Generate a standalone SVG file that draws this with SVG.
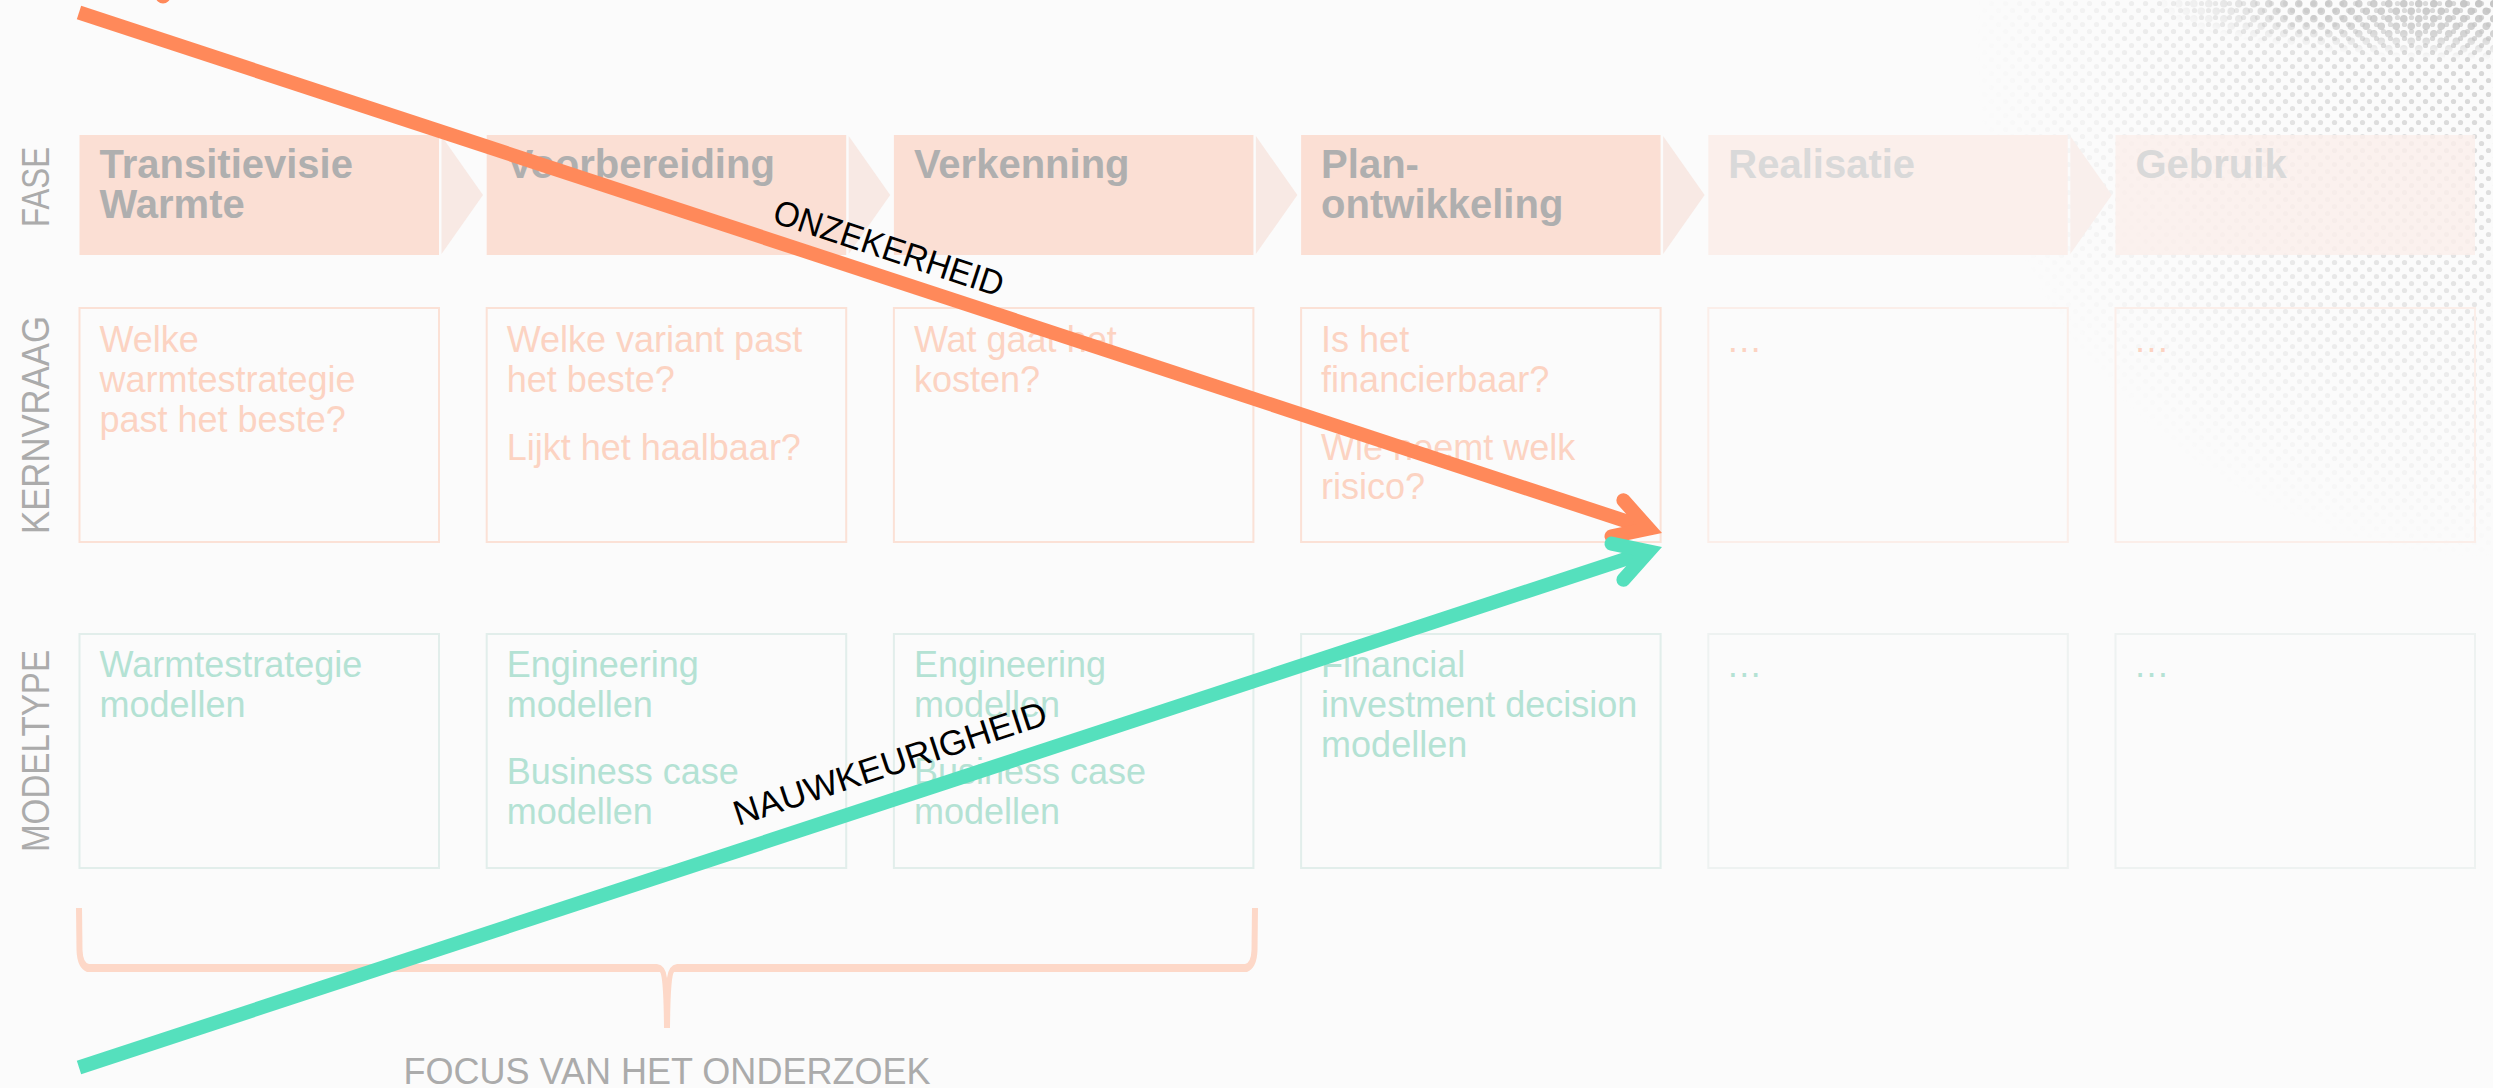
<svg xmlns="http://www.w3.org/2000/svg" width="2493" height="1088" viewBox="0 0 2493 1088">
<style>
  text { font-family: "Liberation Sans", Arial, sans-serif; }
  .phase { fill: #fbdfd4; }
  .phase-l { fill: #fbefeb; }
  .chev { fill: #f8e9e4; }
  .chev-l { fill: #f9efec; }
  .ptext { font-size: 40px; font-weight: bold; fill: #afafaf; }
  .ptext-l { font-size: 40px; font-weight: bold; fill: #d9d9d9; }
  .kbox { fill: none; stroke: #fbe1d6; stroke-width: 2; }
  .kbox-l { fill: none; stroke: #fbeee9; stroke-width: 2; }
  .mbox { fill: none; stroke: #e2eeeb; stroke-width: 2; }
  .mbox-l { fill: none; stroke: #eef2f1; stroke-width: 2; }
  .ktext { font-size: 36px; fill: #fcd3c2; }
  .mtext { font-size: 36px; fill: #b4e2d4; }
  .side { font-size: 38px; fill: #ababab; }
  .focus { font-size: 36px; fill: #ababab; }
  .lbl { font-size: 35px; fill: #000000; }
  .orange { stroke: #ff895a; stroke-width: 14; fill: none; }
  .teal { stroke: #55e0bd; stroke-width: 14; fill: none; }
</style>
<defs>
  <pattern id="dotsL" width="14" height="14" patternUnits="userSpaceOnUse">
    <circle cx="3.5" cy="3.5" r="2.6" fill="#d4d4d4"/>
    <circle cx="10.5" cy="10.5" r="2.6" fill="#d4d4d4"/>
  </pattern>
  <pattern id="dotsD" width="15" height="15" patternUnits="userSpaceOnUse">
    <circle cx="3.75" cy="3.75" r="3.8" fill="#c4c4c4"/>
    <circle cx="11.25" cy="11.25" r="3.8" fill="#c4c4c4"/>
  </pattern>
  <radialGradient id="gL" cx="2493" cy="40" r="520" gradientUnits="userSpaceOnUse">
    <stop offset="0" stop-color="#fff" stop-opacity="1"/>
    <stop offset="0.45" stop-color="#fff" stop-opacity="0.6"/>
    <stop offset="1" stop-color="#fff" stop-opacity="0"/>
  </radialGradient>
  <radialGradient id="gD" cx="0.5" cy="0.5" r="0.5">
    <stop offset="0" stop-color="#fff" stop-opacity="1"/>
    <stop offset="0.6" stop-color="#fff" stop-opacity="0.7"/>
    <stop offset="1" stop-color="#fff" stop-opacity="0"/>
  </radialGradient>
  <mask id="mL" maskUnits="userSpaceOnUse" x="1900" y="0" width="593" height="600">
    <rect x="1900" y="0" width="593" height="600" fill="url(#gL)"/>
  </mask>
  <mask id="mD" maskUnits="userSpaceOnUse" x="2100" y="0" width="393" height="80">
    <rect x="2153" y="-60" width="680" height="120" fill="url(#gD)"/>
  </mask>
  <marker id="headO" markerUnits="userSpaceOnUse" orient="auto" refX="0" refY="0" markerWidth="80" markerHeight="80" overflow="visible">
    <path d="M-32.9,-19 L0,0 L-32.9,19" fill="none" stroke="#ff895a" stroke-width="14" stroke-linecap="round" stroke-linejoin="miter"/>
  </marker>
  <marker id="headT" markerUnits="userSpaceOnUse" orient="auto" refX="0" refY="0" markerWidth="80" markerHeight="80" overflow="visible">
    <path d="M-32.9,-19 L0,0 L-32.9,19" fill="none" stroke="#55e0bd" stroke-width="14" stroke-linecap="round" stroke-linejoin="miter"/>
  </marker>
</defs>

<rect x="0" y="0" width="2493" height="1088" fill="#fbfbfb"/>

<g id="halftone">
  <rect x="1900" y="0" width="593" height="600" fill="url(#dotsL)" mask="url(#mL)"/>
  <rect x="2100" y="0" width="393" height="80" fill="url(#dotsD)" mask="url(#mD)"/>
</g>

<circle cx="163" cy="-4" r="7.5" fill="#ff895a"/>

<g id="side-labels">
  <text class="side" transform="translate(49,187) rotate(-90)" text-anchor="middle" textLength="80" lengthAdjust="spacingAndGlyphs">FASE</text>
  <text class="side" transform="translate(49,425) rotate(-90)" text-anchor="middle" textLength="218" lengthAdjust="spacingAndGlyphs">KERNVRAAG</text>
  <text class="side" transform="translate(49,751) rotate(-90)" text-anchor="middle" textLength="202" lengthAdjust="spacingAndGlyphs">MODELTYPE</text>
</g>

<g id="fase-1">
  <rect class="phase" x="79.5" y="135" width="359.5" height="120"/>
  <polygon class="chev" points="441.5,136 483,195 441.5,254"/>
  <text class="ptext" x="99.5" y="178">Transitievisie</text>
  <text class="ptext" x="99.5" y="218">Warmte</text>
</g>
<g id="fase-2">
  <rect class="phase" x="486.7" y="135" width="359.5" height="120"/>
  <polygon class="chev" points="848.7,136 890.2,195 848.7,254"/>
  <text class="ptext" x="506.7" y="178">Voorbereiding</text>
</g>
<g id="fase-3">
  <rect class="phase" x="893.9" y="135" width="359.5" height="120"/>
  <polygon class="chev" points="1255.9,136 1297.4,195 1255.9,254"/>
  <text class="ptext" x="913.9" y="178">Verkenning</text>
</g>
<g id="fase-4">
  <rect class="phase" x="1301.1" y="135" width="359.5" height="120"/>
  <polygon class="chev" points="1663.1,136 1704.6,195 1663.1,254"/>
  <text class="ptext" x="1321.1" y="178">Plan-</text>
  <text class="ptext" x="1321.1" y="218">ontwikkeling</text>
</g>
<g id="fase-5">
  <rect class="phase-l" x="1708.3" y="135" width="359.5" height="120"/>
  <polygon class="chev-l" points="2070.3,136 2111.8,195 2070.3,254"/>
  <text class="ptext-l" x="1728.3" y="178">Realisatie</text>
</g>
<g id="fase-6">
  <rect class="phase-l" x="2115.5" y="135" width="359.5" height="120" fill-opacity="0.8"/>
  <text class="ptext-l" x="2135.5" y="178">Gebruik</text>
</g>

<g id="kernvraag-1">
  <rect class="kbox" x="79.5" y="308" width="359.5" height="234"/>
  <text class="ktext" x="99.5" y="352">Welke</text>
  <text class="ktext" x="99.5" y="392">warmtestrategie</text>
  <text class="ktext" x="99.5" y="432">past het beste?</text>
</g>
<g id="kernvraag-2">
  <rect class="kbox" x="486.7" y="308" width="359.5" height="234"/>
  <text class="ktext" x="506.7" y="352">Welke variant past</text>
  <text class="ktext" x="506.7" y="392">het beste?</text>
  <text class="ktext" x="506.7" y="460">Lijkt het haalbaar?</text>
</g>
<g id="kernvraag-3">
  <rect class="kbox" x="893.9" y="308" width="359.5" height="234"/>
  <text class="ktext" x="913.9" y="352">Wat gaat het</text>
  <text class="ktext" x="913.9" y="392">kosten?</text>
</g>
<g id="kernvraag-4">
  <rect class="kbox" x="1301.1" y="308" width="359.5" height="234"/>
  <text class="ktext" x="1321.1" y="352">Is het</text>
  <text class="ktext" x="1321.1" y="392">financierbaar?</text>
  <text class="ktext" x="1321.1" y="460">Wie neemt welk</text>
  <text class="ktext" x="1321.1" y="499">risico?</text>
</g>
<g id="kernvraag-5">
  <rect class="kbox-l" x="1708.3" y="308" width="359.5" height="234"/>
  <text class="ktext" x="1726.3" y="352">…</text>
</g>
<g id="kernvraag-6">
  <rect class="kbox-l" x="2115.5" y="308" width="359.5" height="234"/>
  <text class="ktext" x="2133.5" y="352">…</text>
</g>

<g id="modeltype-1">
  <rect class="mbox" x="79.5" y="634" width="359.5" height="234"/>
  <text class="mtext" x="99.5" y="677">Warmtestrategie</text>
  <text class="mtext" x="99.5" y="717">modellen</text>
</g>
<g id="modeltype-2">
  <rect class="mbox" x="486.7" y="634" width="359.5" height="234"/>
  <text class="mtext" x="506.7" y="677">Engineering</text>
  <text class="mtext" x="506.7" y="717">modellen</text>
  <text class="mtext" x="506.7" y="784">Business case</text>
  <text class="mtext" x="506.7" y="824">modellen</text>
</g>
<g id="modeltype-3">
  <rect class="mbox" x="893.9" y="634" width="359.5" height="234"/>
  <text class="mtext" x="913.9" y="677">Engineering</text>
  <text class="mtext" x="913.9" y="717">modellen</text>
  <text class="mtext" x="913.9" y="784">Business case</text>
  <text class="mtext" x="913.9" y="824">modellen</text>
</g>
<g id="modeltype-4">
  <rect class="mbox" x="1301.1" y="634" width="359.5" height="234"/>
  <text class="mtext" x="1321.1" y="677">Financial</text>
  <text class="mtext" x="1321.1" y="717">investment decision</text>
  <text class="mtext" x="1321.1" y="757">modellen</text>
</g>
<g id="modeltype-5">
  <rect class="mbox-l" x="1708.3" y="634" width="359.5" height="234"/>
  <text class="mtext" x="1726.3" y="677">…</text>
</g>
<g id="modeltype-6">
  <rect class="mbox-l" x="2115.5" y="634" width="359.5" height="234"/>
  <text class="mtext" x="2133.5" y="677">…</text>
</g>

<g id="focus">
  <path d="M76,908 L76.5,950 Q77,968 87,972 L660,972 Q663.5,976 664,1028 L670,1028 Q670.5,976 674,972 L1247,972 Q1257,968 1257.5,950 L1258,908 L1252,908 L1251.5,950 Q1251,963 1245,964 L677,964 Q668.5,965 667,978 Q665.5,965 657,964 L89,964 Q83,963 82.5,950 L82,908 Z" fill="#fdd8c8"/>
  <text class="focus" x="667" y="1084" text-anchor="middle" textLength="527" lengthAdjust="spacingAndGlyphs">FOCUS VAN HET ONDERZOEK</text>
</g>

<g id="connectors">
  <path class="orange" d="M79,12.5 L1648.7,528.6" marker-end="url(#headO)"/>
  <path class="teal" d="M79,1067.5 L1648.7,551.4" marker-end="url(#headT)"/>
  <text class="lbl" transform="translate(771,222) rotate(18.2)" textLength="240" lengthAdjust="spacingAndGlyphs">ONZEKERHEID</text>
  <text class="lbl" transform="translate(738,826) rotate(-18.2)" textLength="328" lengthAdjust="spacingAndGlyphs">NAUWKEURIGHEID</text>
</g>
</svg>
